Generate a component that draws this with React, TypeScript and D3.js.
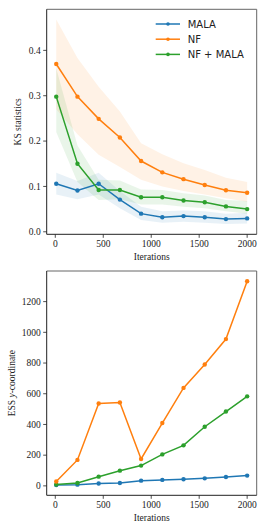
import React from "react";
import * as d3 from "d3";

const iterations = [10, 231.1, 452.2, 673.3, 894.4, 1115.6, 1336.7, 1557.8, 1778.9, 2000];

const ksMala = [0.106, 0.091, 0.106, 0.071, 0.040, 0.032, 0.0346, 0.032, 0.028, 0.0295];
const ksMalaLo = [0.082, 0.072, 0.082, 0.052, 0.026, 0.020, 0.022, 0.020, 0.017, 0.018];
const ksMalaHi = [0.130, 0.112, 0.130, 0.090, 0.055, 0.045, 0.047, 0.045, 0.040, 0.042];

const ksNf = [0.370, 0.298, 0.249, 0.208, 0.156, 0.131, 0.116, 0.103, 0.0915, 0.086];
const ksNfLo = [0.270, 0.215, 0.170, 0.143, 0.115, 0.100, 0.090, 0.082, 0.074, 0.066];
const ksNfHi = [0.468, 0.383, 0.320, 0.265, 0.195, 0.171, 0.151, 0.136, 0.119, 0.110];

const ksNfMala = [0.298, 0.150, 0.092, 0.092, 0.076, 0.076, 0.069, 0.065, 0.056, 0.050];
const ksNfMalaLo = [0.220, 0.110, 0.070, 0.072, 0.060, 0.060, 0.055, 0.052, 0.045, 0.040];
const ksNfMalaHi = [0.360, 0.190, 0.115, 0.113, 0.093, 0.092, 0.085, 0.080, 0.070, 0.068];

const essMala = [5, 8, 15, 19, 34, 39, 43, 49, 58, 67];
const essNf = [28, 169, 536, 543, 175, 409, 638, 790, 956, 1333];
const essNfMala = [9, 19, 60, 99, 132, 205, 264, 385, 484, 583];

const xTicks = [0, 500, 1000, 1500, 2000];
const ksTicks = [0.0, 0.1, 0.2, 0.3, 0.4];
const essTicks = [0, 200, 400, 600, 800, 1000, 1200];

const seriesNames = ["MALA", "NF", "NF + MALA"];
const colors = ["#1f77b4", "#ff7f0e", "#2ca02c"];

const SERIF = "'Liberation Serif', 'DejaVu Serif', serif";
const SANS = "'DejaVu Sans', sans-serif";

const L = 46.7, R = 256.7;

function padDomain(lo: number, hi: number): [number, number] {
  const r = hi - lo;
  return [lo - 0.05 * r, hi + 0.05 * r];
}

const xDom = padDomain(d3.min(iterations)!, d3.max(iterations)!);

function Axes({ top, bottom, yDomain, yTicks, yFmt, ylabel, ylabelX, children }: any) {
  const x = d3.scaleLinear().domain(xDom).range([L, R]);
  const y = d3.scaleLinear().domain(yDomain).range([bottom, top]);
  return (
    <g>
      {children(x, y)}
      <line x1={L} x2={R} y1={top} y2={top} stroke="#666" strokeWidth={1} />
      <line x1={R} x2={R} y1={top} y2={bottom} stroke="#666" strokeWidth={1} />
      <line x1={L} x2={L} y1={top} y2={bottom} stroke="#222" strokeWidth={1} />
      <line x1={L} x2={R} y1={bottom} y2={bottom} stroke="#222" strokeWidth={1} />
      {xTicks.map((t) => (
        <g key={"x" + t}>
          <line x1={x(t)} x2={x(t)} y1={bottom} y2={bottom + 3.5} stroke="#222" strokeWidth={0.8} />
          <text x={x(t)} y={bottom + 13} fontSize={9.5} fontFamily={SERIF} textAnchor="middle" fill="#222">{t}</text>
        </g>
      ))}
      {yTicks.map((t: number) => (
        <g key={"y" + t}>
          <line x1={L - 3.5} x2={L} y1={y(t)} y2={y(t)} stroke="#222" strokeWidth={0.8} />
          <text x={L - 6} y={y(t) + 3.2} fontSize={9.5} fontFamily={SERIF} textAnchor="end" fill="#222">{yFmt(t)}</text>
        </g>
      ))}
      <text x={(L + R) / 2} y={bottom + 25.5} fontSize={9.5} fontFamily={SERIF} textAnchor="middle" fill="#222">Iterations</text>
      <text transform={`translate(${ylabelX},${(top + bottom) / 2}) rotate(-90)`} fontSize={9.5} fontFamily={SERIF} textAnchor="middle" fill="#222">{ylabel}</text>
    </g>
  );
}

function Series({ x, y, vals, color, lo, hi }: any) {
  const line = d3.line<number>().x((_, i) => x(iterations[i])).y((d) => y(d));
  const area = d3.area<number>().x((_, i) => x(iterations[i])).y0((_, i) => y(lo[i])).y1((_, i) => y(hi[i]));
  return (
    <g>
      {lo && <path d={area(vals)!} fill={color} fillOpacity={0.1} stroke="none" />}
      <path d={line(vals)!} fill="none" stroke={color} strokeWidth={1.5} />
      {vals.map((v: number, i: number) => (
        <circle key={i} cx={x(iterations[i])} cy={y(v)} r={2.2} fill={color} />
      ))}
    </g>
  );
}

export default function App() {
  const ksTop = 9.3, ksBottom = 234.3;
  const essTop = 271, essBottom = 495.3;
  const ksAll = [...ksMalaLo, ...ksMalaHi, ...ksNfLo, ...ksNfHi, ...ksNfMalaLo, ...ksNfMalaHi];
  const ksDom = padDomain(d3.min(ksAll)!, d3.max(ksAll)!);
  const essAll = [...essMala, ...essNf, ...essNfMala];
  const essDom = padDomain(d3.min(essAll)!, d3.max(essAll)!);
  const ks = [
    [ksMala, ksMalaLo, ksMalaHi],
    [ksNf, ksNfLo, ksNfHi],
    [ksNfMala, ksNfMalaLo, ksNfMalaHi],
  ];
  const ess = [essMala, essNf, essNfMala];
  return (
    <svg width={266} height={532} style={{ position: "absolute", left: 0, top: 0, background: "#fff" }}>
      <rect x={0} y={0} width={266} height={532} fill="#fff" />
      <Axes top={ksTop} bottom={ksBottom} yDomain={ksDom} yTicks={ksTicks} yFmt={(t: number) => t.toFixed(1)} ylabel="KS statistics" ylabelX={21}>
        {(x: any, y: any) => (
          <g>
            {ks.map((s, i) => (
              <path key={"a" + i} d={d3.area<number>().x((_, j) => x(iterations[j])).y0((_, j) => y(s[1][j])).y1((_, j) => y(s[2][j]))(s[0])!} fill={colors[i]} fillOpacity={0.1} />
            ))}
            {ks.map((s, i) => (
              <Series key={i} x={x} y={y} vals={s[0]} color={colors[i]} />
            ))}
            {seriesNames.map((n, i) => (
              <g key={n}>
                <line x1={155.7} x2={180} y1={24 + i * 15.2} y2={24 + i * 15.2} stroke={colors[i]} strokeWidth={1.5} />
                <circle cx={168} cy={24 + i * 15.2} r={1.8} fill={colors[i]} />
                <text x={187.7} y={24 + i * 15.2 + 3.6} fontSize={10} fontFamily={SANS} fill="#222">{n}</text>
              </g>
            ))}
          </g>
        )}
      </Axes>
      <Axes top={essTop} bottom={essBottom} yDomain={essDom} yTicks={essTicks} yFmt={(t: number) => String(t)} ylabel={<>ESS <tspan fontStyle="italic">y</tspan>-coordinate</>} ylabelX={15}>
        {(x: any, y: any) => (
          <g>
            {[0, 2, 1].map((i) => (
              <Series key={i} x={x} y={y} vals={ess[i]} color={colors[i]} />
            ))}
          </g>
        )}
      </Axes>
    </svg>
  );
}
